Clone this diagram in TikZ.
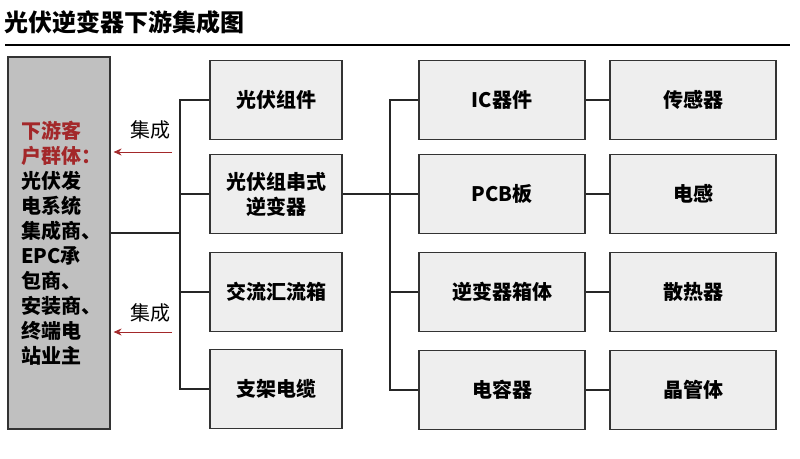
\documentclass[tikz,border=0pt]{standalone}
\usepackage{fontspec}
\setmainfont{Noto Sans CJK SC}
\usetikzlibrary{arrows.meta}
\definecolor{boxfill}{HTML}{EEEEEE}
\definecolor{boxline}{HTML}{333333}
\definecolor{leftfill}{HTML}{C0C0C0}
\definecolor{darkred}{HTML}{A3282A}
\tikzset{
  cbox/.style={draw=boxline, fill=boxfill, line width=1.2pt, minimum height=79pt,
    font=\fontsize{20}{25}\selectfont\bfseries, align=center, inner sep=0pt},
  narrow/.style={cbox, minimum width=132pt},
  wide/.style={cbox, minimum width=166pt},
  conn/.style={draw=black!85, line width=1.2pt},
  redarrow/.style={draw=darkred, line width=0.8pt, -{Stealth[length=8pt,width=7pt]}, shorten >=3pt},
  lbl/.style={font=\fontsize{20}{24}\selectfont, inner sep=0pt}
}
\begin{document}
\begin{tikzpicture}[x=1pt,y=-1pt]
\useasboundingbox (0,0) rectangle (800,458);
% title
\node[anchor=west, inner sep=0pt, font=\fontsize{24}{28}\selectfont\bfseries] (title) at (4,22) {光伏逆变器下游集成图};
\coordinate (rl) at (5,45);
\coordinate (rr) at (790,45);
\draw[line width=2pt] (rl) -- (rr);
% left box
\node[draw=boxline, fill=leftfill, line width=1.2pt, minimum width=102pt, minimum height=372pt, inner sep=0pt] (left) at (59,243) {};
\node[anchor=north west, inner sep=0pt, align=left, font=\fontsize{20}{25}\selectfont\bfseries] (lefttext) at (21,121)
 {\textcolor{darkred}{下游客}\\\textcolor{darkred}{户群体：}\\光伏发\\电系统\\集成商、\\EPC承\\包商、\\安装商、\\终端电\\站业主};
% column 2
\node[narrow] (c2r1) at (276,100) {光伏组件};
\node[narrow] (c2r2) at (276,194) {光伏组串式\\逆变器};
\node[narrow] (c2r3) at (276,292) {交流汇流箱};
\node[narrow] (c2r4) at (276,389) {支架电缆};
% column 3
\node[wide] (c3r1) at (502,100) {IC器件};
\node[wide] (c3r2) at (502,194) {PCB板};
\node[wide] (c3r3) at (502,292) {逆变器箱体};
\node[wide] (c3r4) at (502,390) {电容器};
% column 4
\node[wide] (c4r1) at (693,100) {传感器};
\node[wide] (c4r2) at (693,194) {电感};
\node[wide] (c4r3) at (693,292) {散热器};
\node[wide] (c4r4) at (693,390) {晶管体};
% left trunk
\coordinate (t1) at (180,100);
\coordinate (t4) at (180,389);
\coordinate (tm) at (180,233);
\draw[conn] (c2r1.west) -- (t1) -- (t4) -- (c2r4.west);
\draw[conn] (c2r2.west) -- (c2r2.west -| t1);
\draw[conn] (c2r3.west) -- (c2r3.west -| t1);
\draw[conn] (left.east |- tm) -- (tm);
% right trunk
\coordinate (s1) at (390,100);
\coordinate (s4) at (390,390);
\draw[conn] (c3r1.west) -- (s1) -- (s4) -- (c3r4.west);
\draw[conn] (c2r2.east) -- (c3r2.west);
\draw[conn] (c3r3.west) -- (c3r3.west -| s1);
% col3 to col4
\draw[conn] (c3r1.east) -- (c4r1.west);
\draw[conn] (c3r2.east) -- (c4r2.west);
\draw[conn] (c3r3.east) -- (c4r3.west);
\draw[conn] (c3r4.east) -- (c4r4.west);
% integration arrows
\node[lbl] (j1) at (150,130) {集成};
\node[lbl] (j2) at (150,313) {集成};
\coordinate (a1) at (172,152);
\coordinate (a2) at (172,332);
\draw[redarrow] (a1) -- (a1 -| left.east);
\draw[redarrow] (a2) -- (a2 -| left.east);
\end{tikzpicture}
\end{document}
